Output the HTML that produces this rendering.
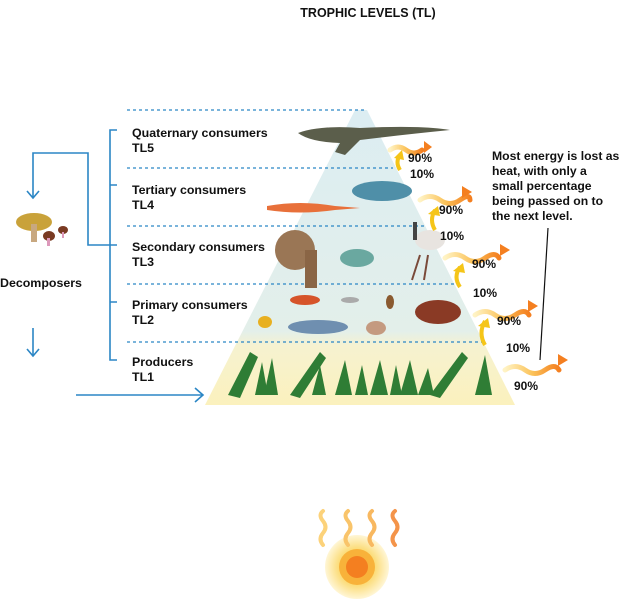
<!DOCTYPE html>
<html><head><meta charset="utf-8"><style>
html,body{margin:0;padding:0;background:#fff;}
svg{display:block;font-family:"Liberation Sans",sans-serif;font-weight:bold;}
</style></head><body>
<svg width="620" height="600" viewBox="0 0 620 600" xmlns="http://www.w3.org/2000/svg">
<defs>
<linearGradient id="pyr" x1="0" y1="0" x2="0" y2="1">
<stop offset="0" stop-color="#dcedf2"/><stop offset="0.75" stop-color="#e3efea"/><stop offset="0.8" stop-color="#f6f2d0"/><stop offset="1" stop-color="#fbf1bd"/>
</linearGradient>
<linearGradient id="heat" x1="0" x2="1"><stop offset="0" stop-color="#fff3c4"/><stop offset="0.5" stop-color="#fbc35a"/><stop offset="1" stop-color="#f47f20"/></linearGradient>
<radialGradient id="sunglow"><stop offset="0.5" stop-color="#fbd86a"/><stop offset="1" stop-color="#fff6d6"/></radialGradient>
</defs>
<text x="368" y="17" font-size="12.5" text-anchor="middle" fill="#111">TROPHIC LEVELS (TL)</text>
<polygon points="355,110 367,110 515,405 205,405" fill="url(#pyr)"/>
<g stroke="#2b86c5" stroke-width="1.3" stroke-dasharray="3,3">
<line x1="127" y1="110" x2="366" y2="110"/><line x1="127" y1="168" x2="393" y2="168"/>
<line x1="127" y1="226" x2="424" y2="226"/><line x1="127" y1="284" x2="454" y2="284"/>
<line x1="127" y1="342" x2="483" y2="342"/>
</g>
<g stroke="#2b86c5" stroke-width="1.6" fill="none">
<path d="M117,130 H110 V360 H117"/><path d="M110,185 H117 M110,245 H117 M110,302 H117"/>
<path d="M110,245 H88 V153 H33 V198"/><path d="M27,191 L33,198 L39,191"/>
<path d="M33,328 V356"/><path d="M27,349 L33,356 L39,349"/>
<path d="M76,395 H203"/><path d="M195,388 L203,395 L195,402"/>
</g>
<g font-size="12.4" fill="#111">
<text x="132" y="137">Quaternary consumers</text><text x="132" y="152">TL5</text>
<text x="132" y="194">Tertiary consumers</text><text x="132" y="209">TL4</text>
<text x="132" y="251">Secondary consumers</text><text x="132" y="266">TL3</text>
<text x="132" y="309">Primary consumers</text><text x="132" y="324">TL2</text>
<text x="132" y="366">Producers</text><text x="132" y="381">TL1</text>
<text x="0" y="287">Decomposers</text>
</g>
<g font-size="12.2" fill="#111">
<text x="492" y="160">Most energy is lost as</text><text x="492" y="175">heat, with only a</text>
<text x="492" y="190">small percentage</text><text x="492" y="205">being passed on to</text>
<text x="492" y="220">the next level.</text>
</g>
<line x1="548" y1="228" x2="540" y2="360" stroke="#111" stroke-width="1.2"/>
<!-- mushrooms -->
<ellipse cx="34" cy="222" rx="18" ry="9" fill="#c9a23a"/><rect x="31" y="224" width="6" height="18" fill="#c8a880"/>
<ellipse cx="49" cy="236" rx="6" ry="5" fill="#7a3a22"/><rect x="47" y="238" width="3" height="8" fill="#d9b"/>
<ellipse cx="63" cy="230" rx="5" ry="4" fill="#7a3a22"/><rect x="62" y="232" width="2" height="6" fill="#d9b"/>
<!-- animals -->
<path d="M298,133 Q320,125 360,128 Q420,125 450,130 Q400,135 360,140 L345,155 L335,152 L340,143 Q310,142 298,133Z" fill="#5b5e4b"/>
<ellipse cx="382" cy="191" rx="30" ry="10" fill="#4f8fa8"/>
<path d="M267,206 Q300,200 335,206 L360,208 L335,210 Q300,215 267,210Z" fill="#e8703a"/>
<ellipse cx="295" cy="250" rx="20" ry="20" fill="#9a7655"/><rect x="305" y="250" width="12" height="38" fill="#8a6545"/>
<ellipse cx="357" cy="258" rx="17" ry="9" fill="#6aa8a0"/>
<ellipse cx="430" cy="240" rx="15" ry="10" fill="#e8e4e0"/><path d="M420,255 L412,280 M428,255 L424,280" stroke="#7a4a3a" stroke-width="2"/><rect x="413" y="222" width="4" height="18" fill="#444"/>
<ellipse cx="305" cy="300" rx="15" ry="5" fill="#d6542a"/><ellipse cx="350" cy="300" rx="9" ry="3" fill="#aaa"/>
<ellipse cx="390" cy="302" rx="4" ry="7" fill="#8a5a30"/>
<ellipse cx="438" cy="312" rx="23" ry="12" fill="#8a3a25"/>
<ellipse cx="265" cy="322" rx="7" ry="6" fill="#e8b020"/>
<ellipse cx="318" cy="327" rx="30" ry="7" fill="#6f8fb0"/>
<ellipse cx="376" cy="328" rx="10" ry="7" fill="#c49a80"/>
<!-- plants -->
<g fill="#2f7d35">
<path d="M228,395 L250,352 L258,357 L240,398Z"/><path d="M255,395 L262,362 L268,395Z"/><path d="M264,395 L272,358 L278,395Z"/>
<path d="M290,395 L320,352 L326,358 L300,398Z"/><path d="M312,395 L320,365 L326,395Z"/><path d="M335,395 L345,360 L352,395Z"/>
<path d="M355,395 L362,365 L368,395Z"/><path d="M370,395 L380,360 L388,395Z"/><path d="M390,395 L396,365 L402,395Z"/>
<path d="M400,395 L410,360 L418,395Z"/><path d="M418,395 L428,368 L434,395Z"/>
<path d="M430,395 L462,352 L468,358 L440,398Z"/><path d="M475,395 L485,355 L492,395Z"/>
</g>
<!-- heat arrows -->
<g fill="none" stroke="url(#heat)" stroke-width="5" stroke-linecap="round">
<path d="M390,150 q8,-6 16,0 t16,0"/><path d="M420,200 q10,-7 20,0 t20,0 t10,0"/>
<path d="M445,258 q10,-7 20,0 t20,0 t14,0"/><path d="M475,315 q10,-7 20,0 t20,0 t14,0"/>
<path d="M505,370 q10,-7 20,0 t20,0 t14,0"/>
</g>
<g fill="#f47f20">
<polygon points="424,141 432,147 424,153"/><polygon points="462,186 472,192 462,198"/>
<polygon points="500,244 510,250 500,256"/><polygon points="528,300 538,306 528,312"/>
<polygon points="558,354 568,360 558,366"/>
</g>
<g fill="none" stroke="#f5c518" stroke-width="4">
<path d="M400,170 q-5,-8 0,-15"/><path d="M435,230 q-6,-10 0,-20"/><path d="M460,287 q-7,-10 0,-20"/>
<path d="M485,345 q-7,-12 0,-24"/>
</g>
<g fill="#f5c518"><polygon points="394,158 402,150 404,160"/><polygon points="428,214 438,206 440,216"/>
<polygon points="453,271 463,263 465,273"/><polygon points="478,326 488,318 490,328"/></g>
<g font-size="12" fill="#111">
<text x="408" y="162">90%</text><text x="410" y="178">10%</text>
<text x="439" y="214">90%</text><text x="440" y="240">10%</text>
<text x="472" y="268">90%</text><text x="473" y="297">10%</text>
<text x="497" y="325">90%</text><text x="506" y="352">10%</text>
<text x="514" y="390">90%</text>
</g>
<!-- sun -->
<circle cx="357" cy="567" r="32" fill="url(#sunglow)"/>
<circle cx="357" cy="567" r="18" fill="#f8b23a"/><circle cx="357" cy="567" r="11" fill="#f47f20"/>
<g fill="none" stroke-width="4" stroke-linecap="round">
<path d="M323,545 q-5,-6 0,-12 t0,-12 t0,-10" stroke="#fcd27a"/>
<path d="M348,545 q-5,-6 0,-12 t0,-12 t0,-10" stroke="#f9c46a"/>
<path d="M372,545 q-5,-6 0,-12 t0,-12 t0,-10" stroke="#f8b860"/>
<path d="M395,545 q-5,-6 0,-12 t0,-12 t0,-10" stroke="#f4944a"/>
</g>
</svg>
</body></html>
